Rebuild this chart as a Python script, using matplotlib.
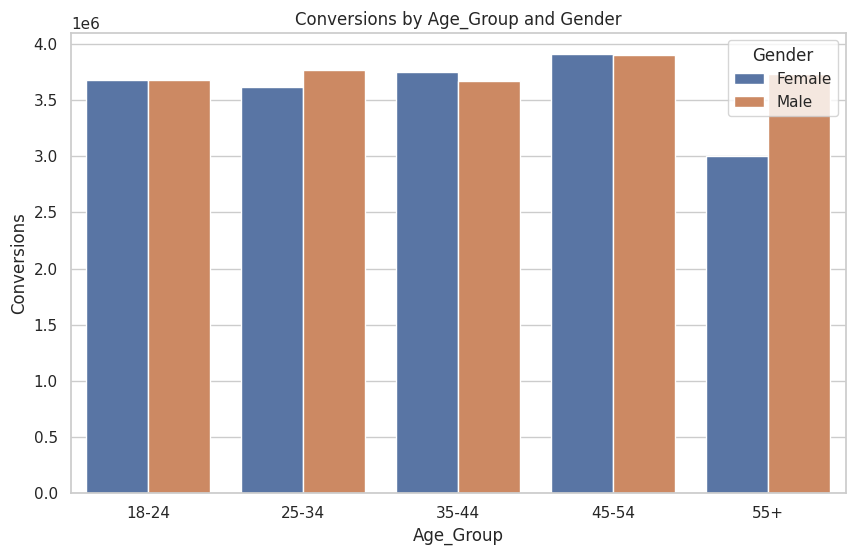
import matplotlib
matplotlib.use("Agg")
import matplotlib.pyplot as plt
import seaborn as sns
import pandas as pd

age_groups = ["18-24", "25-34", "35-44", "45-54", "55+"]
female = [3.68e6, 3.62e6, 3.75e6, 3.91e6, 3.00e6]
male = [3.68e6, 3.77e6, 3.67e6, 3.90e6, 3.73e6]

df = pd.DataFrame({
    "Age_Group": age_groups * 2,
    "Gender": ["Female"] * len(age_groups) + ["Male"] * len(age_groups),
    "Conversions": female + male,
})

sns.set_theme(style="whitegrid")
fig = plt.figure(figsize=(8.55, 5.56), dpi=100)
ax = sns.barplot(data=df, x="Age_Group", y="Conversions", hue="Gender",
                 order=age_groups, hue_order=["Female", "Male"])
ax.set_title("Conversions by Age_Group and Gender")
ax.set_ylim(0, 4.1e6)
ax.legend(title="Gender", loc="upper right")
plt.subplots_adjust(left=0.083, right=0.989, top=0.941, bottom=0.113)
plt.savefig("out.png", dpi=100)
plt.close()
